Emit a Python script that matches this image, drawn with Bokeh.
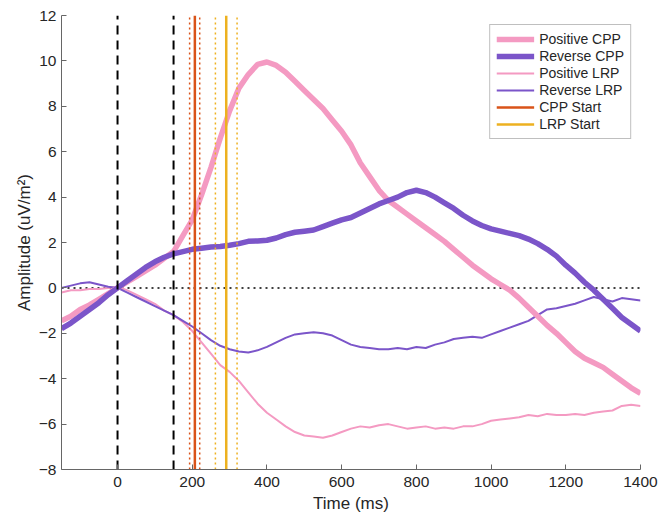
from bokeh.plotting import figure
from bokeh.models import Range1d, FixedTicker, Span, Legend, LegendItem
from bokeh.embed import file_html
from bokeh.resources import INLINE

# Time axis (ms), sampled every 25 ms
time_ms = list(range(-150, 1401, 25))

positive_cpp = [-1.45, -1.25, -0.95, -0.75, -0.5, -0.25, 0.0, 0.25, 0.5, 0.75,
                1.0, 1.3, 1.6, 2.3, 3.0, 4.1, 5.3, 6.6, 7.8, 8.8,
                9.4, 9.85, 9.95, 9.8, 9.5, 9.1, 8.7, 8.3, 7.9, 7.4,
                6.9, 6.3, 5.5, 4.9, 4.3, 3.85, 3.55, 3.25, 2.95, 2.65,
                2.35, 2.05, 1.7, 1.35, 1.0, 0.7, 0.4, 0.15, -0.1, -0.45,
                -0.85, -1.25, -1.65, -2.0, -2.4, -2.8, -3.1, -3.3, -3.5, -3.8,
                -4.1, -4.4, -4.65]

reverse_cpp = [-1.8, -1.55, -1.25, -0.95, -0.65, -0.3, 0.0, 0.3, 0.6, 0.9,
               1.15, 1.35, 1.5, 1.6, 1.7, 1.75, 1.8, 1.82, 1.88, 1.95,
               2.05, 2.07, 2.1, 2.2, 2.35, 2.45, 2.5, 2.55, 2.7, 2.85,
               3.0, 3.1, 3.3, 3.5, 3.7, 3.85, 4.0, 4.2, 4.3, 4.2,
               4.0, 3.75, 3.5, 3.2, 2.95, 2.75, 2.6, 2.5, 2.4, 2.3,
               2.15, 1.95, 1.7, 1.4, 1.0, 0.65, 0.25, -0.1, -0.5, -0.9,
               -1.3, -1.6, -1.9]

positive_lrp = [-0.2, -0.1, -0.1, -0.05, -0.05, 0.0, 0.05, -0.1, -0.3, -0.5,
                -0.7, -1.0, -1.2, -1.5, -1.9, -2.4, -2.9, -3.4, -3.7, -4.1,
                -4.6, -5.1, -5.5, -5.8, -6.1, -6.35, -6.5, -6.55, -6.6, -6.5,
                -6.35, -6.2, -6.1, -6.15, -6.05, -6.0, -6.1, -6.2, -6.15, -6.1,
                -6.2, -6.15, -6.2, -6.1, -6.1, -6.0, -5.85, -5.8, -5.75, -5.7,
                -5.6, -5.65, -5.55, -5.6, -5.6, -5.55, -5.6, -5.5, -5.45, -5.4,
                -5.2, -5.15, -5.2]

reverse_lrp = [0.0, 0.1, 0.2, 0.25, 0.15, 0.05, 0.0, -0.2, -0.4, -0.6,
               -0.8, -1.0, -1.2, -1.45, -1.7, -2.0, -2.3, -2.55, -2.7, -2.8,
               -2.85, -2.75, -2.6, -2.4, -2.2, -2.05, -2.0, -1.95, -2.0, -2.1,
               -2.3, -2.5, -2.6, -2.65, -2.7, -2.7, -2.65, -2.7, -2.6, -2.65,
               -2.5, -2.4, -2.25, -2.2, -2.15, -2.2, -2.05, -1.9, -1.75, -1.6,
               -1.45, -1.2, -0.95, -0.9, -0.8, -0.7, -0.55, -0.4, -0.5, -0.6,
               -0.45, -0.5, -0.55]

# Event markers (ms)
stim_markers = [0, 150]
cpp_start = [207]
cpp_start_ci = [193, 220]
lrp_start = [291]
lrp_start_ci = [262, 320]

x_ticks = [0, 200, 400, 600, 800, 1000, 1200, 1400]
y_ticks = [-8, -6, -4, -2, 0, 2, 4, 6, 8, 10, 12]
y_min, y_max = -8, 12

PINK = "#F49AC2"
PURPLE = "#7B55C9"
RED = "#D95319"
GOLD = "#EDB120"
INK = "#262626"
AXIS = "#666666"
FONT = "Liberation Sans"

p = figure(width=659, height=519, output_backend="svg", toolbar_location=None,
           x_range=Range1d(-150, 1400), y_range=Range1d(y_min, y_max),
           min_border_left=61, min_border_right=19, min_border_top=15,
           min_border_bottom=50)

p.grid.visible = False
p.outline_line_color = None
p.background_fill_color = "white"
p.border_fill_color = "white"

for ax in (p.xaxis[0], p.yaxis[0]):
    ax.axis_line_color = AXIS
    ax.major_tick_line_color = AXIS
    ax.minor_tick_line_color = None
    ax.major_tick_in = 5
    ax.major_tick_out = 0
    ax.major_label_text_font = FONT
    ax.major_label_text_font_size = "15.5px"
    ax.major_label_text_color = INK
    ax.axis_label_text_font = FONT
    ax.axis_label_text_font_size = "17px"
    ax.axis_label_text_font_style = "normal"
    ax.axis_label_text_color = INK

p.xaxis.ticker = FixedTicker(ticks=x_ticks)
p.yaxis.ticker = FixedTicker(ticks=y_ticks)
p.xaxis.axis_label = "Time (ms)"
p.yaxis.axis_label = "Amplitude (uV/m²)"
p.xaxis.major_label_standoff = 7
p.yaxis.major_label_standoff = 5
p.xaxis.axis_label_standoff = 4
p.yaxis.axis_label_standoff = 2

# zero reference
p.add_layout(Span(location=0, dimension="width", line_color="black",
                  line_width=1.5, line_dash="2 4", level="underlay"))

r_plrp = p.line(time_ms, positive_lrp, line_color=PINK, line_width=2)
r_rlrp = p.line(time_ms, reverse_lrp, line_color=PURPLE, line_width=2)
r_pcpp = p.line(time_ms, positive_cpp, line_color=PINK, line_width=5.5)
r_rcpp = p.line(time_ms, reverse_cpp, line_color=PURPLE, line_width=5.5)

def vlines(xs, **kw):
    return p.segment(x0=xs, x1=xs, y0=[y_min] * len(xs), y1=[y_max] * len(xs), **kw)

vlines(stim_markers, line_color="black", line_width=2, line_dash="9 6")
vlines(cpp_start_ci, line_color=RED, line_width=1.5, line_dash="2 3")
vlines(lrp_start_ci, line_color=GOLD, line_width=1.5, line_dash="2 3")
r_cpp0 = vlines(cpp_start, line_color=RED, line_width=2.5)
r_lrp0 = vlines(lrp_start, line_color=GOLD, line_width=2.5)

legend = Legend(items=[
    LegendItem(label="Positive CPP", renderers=[r_pcpp]),
    LegendItem(label="Reverse CPP", renderers=[r_rcpp]),
    LegendItem(label="Positive LRP", renderers=[r_plrp]),
    LegendItem(label="Reverse LRP", renderers=[r_rlrp]),
    LegendItem(label="CPP Start", renderers=[r_cpp0]),
    LegendItem(label="LRP Start", renderers=[r_lrp0]),
], location="top_right")
legend.margin = 9
legend.padding = 6
legend.spacing = 1
legend.glyph_width = 38
legend.glyph_height = 16
legend.label_height = 16
legend.label_standoff = 5
legend.label_text_font = FONT
legend.label_text_font_size = "14px"
legend.label_text_color = INK
legend.border_line_color = "#7f7f7f"
legend.border_line_width = 1
legend.background_fill_color = "white"
legend.background_fill_alpha = 1
p.add_layout(legend)

open("out.html", "w").write(file_html(p, INLINE))
